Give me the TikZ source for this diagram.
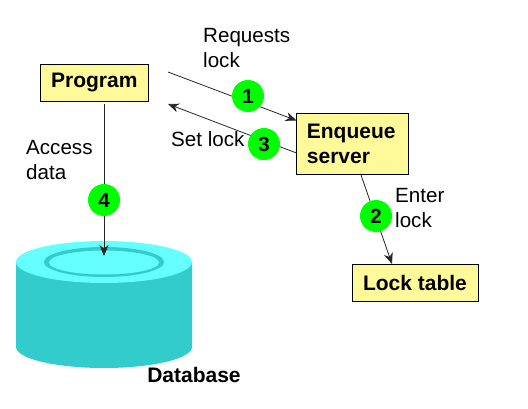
\documentclass[tikz,border=0pt]{standalone}
\usepackage{fontspec}
\setmainfont{Liberation Sans}
\usetikzlibrary{arrows.meta,positioning}

\begin{document}
\begin{tikzpicture}[
    x=1pt, y=-1pt,
    % --- STYLES ---
    box/.style={
        rectangle, draw=black, fill=yellow!40!white,
        line width=1pt, inner sep=0pt,
        align=left, font=\fontsize{21}{25}\selectfont\bfseries
    },
    stepmark/.style={
        circle, fill=green, minimum size=32pt, inner sep=0pt,
        font=\fontsize{20.5}{24}\selectfont\bfseries
    },
    label/.style={
        align=left, inner sep=0pt, anchor=west,
        font=\fontsize{20.6}{24.5}\selectfont
    },
    flow/.style={-{Stealth[length=11pt,width=9pt]}, line width=0.8pt, black!85}
]
\definecolor{dbside}{HTML}{33CCCC}
\definecolor{dbtop}{HTML}{66FFFF}
\useasboundingbox (0,0) rectangle (528,408);

% ===== 1. DATABASE =====
\fill[dbside] (16,262) -- (16,347) arc[start angle=180, end angle=360, x radius=88pt, y radius=21pt]
    -- (192,262) -- cycle;
\fill[dbtop] (104,262) ellipse[x radius=88pt, y radius=21pt];
\fill[dbside] (104,262) ellipse[x radius=60pt, y radius=15pt];
\fill[dbtop] (104,262.5) ellipse[x radius=55pt, y radius=12pt];
\coordinate (db_in) at (104,256);
\node[font=\fontsize{21}{25}\selectfont\bfseries] (db) at (194,375) {Database};

% ===== 2. BOXES =====
\node[box, minimum width=108.5pt, minimum height=37pt, align=center] (prog) at (94.3,82.5) {Program};
\node[box, minimum width=111.5pt, minimum height=61pt, text width=91pt] (enq) at (352.4,143.5) {Enqueue\\server};
\node[box, minimum width=126pt, minimum height=37pt, align=center] (locktab) at (415,282.5) {Lock table};

% ===== 3. CONNECTIONS =====
\coordinate (req_from) at (168,72);
\coordinate (set_to) at (168,104);
\coordinate (enter_from) at (361,175);
\coordinate (prog_out) at (104,104);
\coordinate (enq_in) at (296.5,120.5);
\coordinate (enq_out) at (296.5,153);
\coordinate (lock_in) at (392,264);

\draw[flow] (req_from) -- (enq_in);
\draw[flow] (enq_out) -- (set_to);
\draw[flow] (enter_from) -- (lock_in);
\draw[flow] (prog_out) -- (db_in);

% ===== 4. STEP MARKS =====
\node[stepmark] (s1) at (248,96) {1};
\node[stepmark] (s2) at (376,216) {2};
\node[stepmark] (s3) at (264,144) {3};
\node[stepmark] (s4) at (104,200) {4};

% ===== 5. LABELS =====
\node[label] (l_req) at (203,48) {Requests\\lock};
\node[label] (l_set) at (171,139) {Set lock};
\node[label] (l_enter) at (395,208) {Enter\\lock};
\node[label] (l_access) at (26,160) {Access\\data};

\end{tikzpicture}
\end{document}
